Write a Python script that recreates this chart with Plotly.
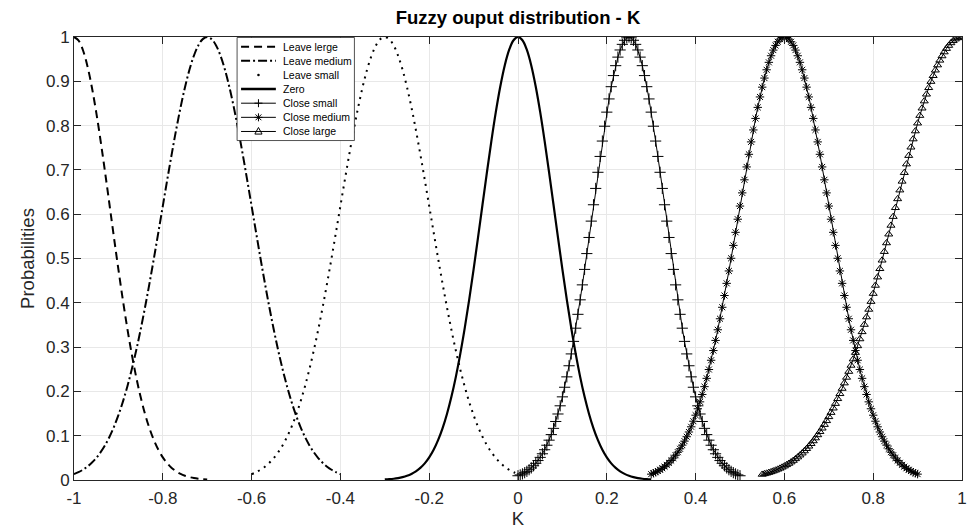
import numpy as np
import plotly.graph_objects as go

# ---------------- data ----------------
series_names = ["Leave lerge", "Leave medium", "Leave small", "Zero",
                "Close small", "Close medium", "Close large"]

# x-ranges of each sampled series (first and last K value)
leave_large_range = [-1.0, -0.7]
leave_medium_range = [-1.0, -0.4]
leave_small_range = [-0.6, 0.0]
zero_range = [-0.3, 0.3]
close_small_range = [0.0, 0.5]
close_medium_range = [0.3, 0.9]
close_large_range = [0.55, 1.0]

leave_large_y = [1.0, 0.9926, 0.9707, 0.9353, 0.8878, 0.8304, 0.7651, 0.6946, 0.6213, 0.5475,
                 0.4754, 0.4067, 0.3427, 0.2846, 0.2328, 0.1877, 0.1490, 0.1166, 0.0899, 0.0683,
                 0.0511, 0.0376, 0.0273, 0.0196, 0.0138, 0.0096, 0.0066, 0.0044, 0.0029, 0.0019,
                 0.0012]

leave_medium_y = [0.0132, 0.0176, 0.0231, 0.0301, 0.0388, 0.0496, 0.0628, 0.0787, 0.0977, 0.1201,
                  0.1463, 0.1764, 0.2107, 0.2494, 0.2922, 0.3391, 0.3899, 0.4439, 0.5005, 0.5591,
                  0.6184, 0.6776, 0.7352, 0.7902, 0.8411, 0.8868, 0.9260, 0.9577, 0.9810, 0.9952,
                  1.0,
                  0.9952, 0.9810, 0.9577, 0.9260, 0.8868, 0.8411, 0.7902, 0.7352, 0.6776, 0.6184,
                  0.5591, 0.5005, 0.4439, 0.3899, 0.3391, 0.2922, 0.2494, 0.2107, 0.1764, 0.1463,
                  0.1201, 0.0977, 0.0787, 0.0628, 0.0496, 0.0388, 0.0301, 0.0231, 0.0176, 0.0132]

leave_small_y = [0.0132, 0.0176, 0.0231, 0.0301, 0.0388, 0.0496, 0.0628, 0.0787, 0.0977, 0.1201,
                 0.1463, 0.1764, 0.2107, 0.2494, 0.2922, 0.3391, 0.3899, 0.4439, 0.5005, 0.5591,
                 0.6184, 0.6776, 0.7352, 0.7902, 0.8411, 0.8868, 0.9260, 0.9577, 0.9810, 0.9952,
                 1.0,
                 0.9952, 0.9810, 0.9577, 0.9260, 0.8868, 0.8411, 0.7902, 0.7352, 0.6776, 0.6184,
                 0.5591, 0.5005, 0.4439, 0.3899, 0.3391, 0.2922, 0.2494, 0.2107, 0.1764, 0.1463,
                 0.1201, 0.0977, 0.0787, 0.0628, 0.0496, 0.0388, 0.0301, 0.0231, 0.0176, 0.0132]

zero_y = [0.0012, 0.0019, 0.0029, 0.0044, 0.0066, 0.0096, 0.0138, 0.0196, 0.0273, 0.0376,
          0.0511, 0.0683, 0.0899, 0.1166, 0.1490, 0.1877, 0.2328, 0.2846, 0.3427, 0.4067,
          0.4754, 0.5475, 0.6213, 0.6946, 0.7651, 0.8304, 0.8878, 0.9353, 0.9707, 0.9926,
          1.0,
          0.9926, 0.9707, 0.9353, 0.8878, 0.8304, 0.7651, 0.6946, 0.6213, 0.5475, 0.4754,
          0.4067, 0.3427, 0.2846, 0.2328, 0.1877, 0.1490, 0.1166, 0.0899, 0.0683, 0.0511,
          0.0376, 0.0273, 0.0196, 0.0138, 0.0096, 0.0066, 0.0044, 0.0029, 0.0019, 0.0012]

close_small_y = [0.0096, 0.0115, 0.0138, 0.0165, 0.0196, 0.0232, 0.0273, 0.0321, 0.0376, 0.0439,
                 0.0511, 0.0592, 0.0683, 0.0785, 0.0899, 0.1025, 0.1166, 0.1321, 0.1490, 0.1675,
                 0.1877, 0.2094, 0.2328, 0.2579, 0.2846, 0.3129, 0.3427, 0.3740, 0.4067, 0.4405,
                 0.4754, 0.5111, 0.5475, 0.5844, 0.6213, 0.6582, 0.6946, 0.7304, 0.7651, 0.7986,
                 0.8304, 0.8602, 0.8878, 0.9129, 0.9353, 0.9546, 0.9707, 0.9834, 0.9926, 0.9981,
                 1.0,
                 0.9981, 0.9926, 0.9834, 0.9707, 0.9546, 0.9353, 0.9129, 0.8878, 0.8602, 0.8304,
                 0.7986, 0.7651, 0.7304, 0.6946, 0.6582, 0.6213, 0.5844, 0.5475, 0.5111, 0.4754,
                 0.4405, 0.4067, 0.3740, 0.3427, 0.3129, 0.2846, 0.2579, 0.2328, 0.2094, 0.1877,
                 0.1675, 0.1490, 0.1321, 0.1166, 0.1025, 0.0899, 0.0785, 0.0683, 0.0592, 0.0511,
                 0.0439, 0.0376, 0.0321, 0.0273, 0.0232, 0.0196, 0.0165, 0.0138, 0.0115, 0.0096]

close_medium_y = [0.0132, 0.0153, 0.0176, 0.0202, 0.0231, 0.0264, 0.0301, 0.0342, 0.0388, 0.0439,
                  0.0496, 0.0559, 0.0628, 0.0704, 0.0787, 0.0877, 0.0977, 0.1084, 0.1201, 0.1327,
                  0.1463, 0.1608, 0.1764, 0.1931, 0.2107, 0.2295, 0.2494, 0.2703, 0.2922, 0.3151,
                  0.3391, 0.3640, 0.3899, 0.4165, 0.4439, 0.4719, 0.5005, 0.5296, 0.5591, 0.5887,
                  0.6184, 0.6481, 0.6776, 0.7067, 0.7352, 0.7632, 0.7902, 0.8162, 0.8411, 0.8647,
                  0.8868, 0.9073, 0.9260, 0.9428, 0.9577, 0.9704, 0.9810, 0.9892, 0.9952, 0.9988,
                  1.0,
                  0.9988, 0.9952, 0.9892, 0.9810, 0.9704, 0.9577, 0.9428, 0.9260, 0.9073, 0.8868,
                  0.8647, 0.8411, 0.8162, 0.7902, 0.7632, 0.7352, 0.7067, 0.6776, 0.6481, 0.6184,
                  0.5887, 0.5591, 0.5296, 0.5005, 0.4719, 0.4439, 0.4165, 0.3899, 0.3640, 0.3391,
                  0.3151, 0.2922, 0.2703, 0.2494, 0.2295, 0.2107, 0.1931, 0.1764, 0.1608, 0.1463,
                  0.1327, 0.1201, 0.1084, 0.0977, 0.0877, 0.0787, 0.0704, 0.0628, 0.0559, 0.0496,
                  0.0439, 0.0388, 0.0342, 0.0301, 0.0264, 0.0231, 0.0202, 0.0176, 0.0153, 0.0132]

close_large_y = [0.0125, 0.0138, 0.0151, 0.0167, 0.0183, 0.0201, 0.0220, 0.0241, 0.0263, 0.0287,
                 0.0313, 0.0342, 0.0372, 0.0404, 0.0439, 0.0477, 0.0517, 0.0560, 0.0605, 0.0654,
                 0.0706, 0.0761, 0.0819, 0.0881, 0.0947, 0.1017, 0.1090, 0.1168, 0.1250, 0.1336,
                 0.1426, 0.1521, 0.1620, 0.1724, 0.1833, 0.1946, 0.2065, 0.2187, 0.2315, 0.2448,
                 0.2586, 0.2728, 0.2875, 0.3027, 0.3183, 0.3344, 0.3509, 0.3678, 0.3850, 0.4027,
                 0.4208, 0.4391, 0.4579, 0.4768, 0.4960, 0.5154, 0.5350, 0.5548, 0.5746, 0.5945,
                 0.6145, 0.6345, 0.6543, 0.6741, 0.6937, 0.7131, 0.7322, 0.7511, 0.7696, 0.7877,
                 0.8054, 0.8226, 0.8392, 0.8553, 0.8707, 0.8854, 0.8994, 0.9126, 0.9250, 0.9366,
                 0.9473, 0.9571, 0.9660, 0.9738, 0.9807, 0.9866, 0.9914, 0.9951, 0.9978, 0.9995,
                 1.0]

x_tick_vals = [-1, -0.8, -0.6, -0.4, -0.2, 0, 0.2, 0.4, 0.6, 0.8, 1]
x_tick_text = ["-1", "-0.8", "-0.6", "-0.4", "-0.2", "0", "0.2", "0.4", "0.6", "0.8", "1"]
y_tick_vals = [0, 0.1, 0.2, 0.3, 0.4, 0.5, 0.6, 0.7, 0.8, 0.9, 1]
y_tick_text = ["0", "0.1", "0.2", "0.3", "0.4", "0.5", "0.6", "0.7", "0.8", "0.9", "1"]


def sample_grid(rng, ys):
    """K positions of the evenly sampled series."""
    return np.linspace(rng[0], rng[1], len(ys))


# ---------------- styles ----------------
BLACK = "black"
AXC = "#262626"
W, H = 975, 529
ML, MR, MT, MB = 74, 8, 37, 47
PW, PH = W - ML - MR, H - MT - MB

dash_leave_large = "8px,5px"
dash_leave_medium = "9px,3px,2px,3px"
dash_leave_small = "2px,5px"

fig = go.Figure()

fig.add_trace(go.Scatter(x=sample_grid(leave_large_range, leave_large_y), y=leave_large_y,
                         mode="lines", name=series_names[0],
                         line=dict(color=BLACK, width=2, dash=dash_leave_large, shape="spline")))
fig.add_trace(go.Scatter(x=sample_grid(leave_medium_range, leave_medium_y), y=leave_medium_y,
                         mode="lines", name=series_names[1],
                         line=dict(color=BLACK, width=2, dash=dash_leave_medium, shape="spline")))
fig.add_trace(go.Scatter(x=sample_grid(leave_small_range, leave_small_y), y=leave_small_y,
                         mode="lines", name=series_names[2],
                         line=dict(color=BLACK, width=2, dash=dash_leave_small, shape="spline")))
fig.add_trace(go.Scatter(x=sample_grid(zero_range, zero_y), y=zero_y,
                         mode="lines", name=series_names[3],
                         line=dict(color=BLACK, width=2.2, shape="spline")))
fig.add_trace(go.Scatter(x=sample_grid(close_small_range, close_small_y), y=close_small_y,
                         mode="lines+markers", name=series_names[4],
                         line=dict(color=BLACK, width=1),
                         marker=dict(symbol="cross-thin", size=8, color=BLACK,
                                     line=dict(color=BLACK, width=1))))
fig.add_trace(go.Scatter(x=sample_grid(close_medium_range, close_medium_y), y=close_medium_y,
                         mode="lines+markers", name=series_names[5],
                         line=dict(color=BLACK, width=1),
                         marker=dict(symbol="asterisk", size=7, color=BLACK,
                                     line=dict(color=BLACK, width=1))))
fig.add_trace(go.Scatter(x=sample_grid(close_large_range, close_large_y), y=close_large_y,
                         mode="lines+markers", name=series_names[6],
                         line=dict(color=BLACK, width=1),
                         marker=dict(symbol="triangle-up-open", size=7, color=BLACK,
                                     line=dict(color=BLACK, width=1))))

# ---------------- compact MATLAB-style legend (box, samples, real text) ----------------
def px2x(px):
    return (px - ML) / PW


def py2y(py):
    return (H - MB - py) / PH


leg_left, leg_right, leg_top, leg_bottom = 238, 356, 37.5, 141
row_first, row_step = 46.7, 14.2
samp_x0, samp_x1, text_x = 242, 277, 282
samp_mid = (samp_x0 + samp_x1) / 2

shapes = [dict(type="rect", xref="paper", yref="paper",
               x0=px2x(leg_left), x1=px2x(leg_right), y0=py2y(leg_bottom), y1=py2y(leg_top),
               fillcolor="white", line=dict(color=AXC, width=0.8), layer="above")]
annotations = []

sample_lines = [dict(width=2, dash=dash_leave_large), dict(width=2, dash=dash_leave_medium), None,
                dict(width=2.5, dash="solid"), dict(width=1, dash="solid"),
                dict(width=1, dash="solid"), dict(width=1, dash="solid")]
marker_paths = [None, None, None, None,
                "M-4,0L4,0M0,-4L0,4",
                "M-4,0L4,0M0,-4L0,4M-2.9,-2.9L2.9,2.9M-2.9,2.9L2.9,-2.9",
                "M0,4L3.6,-2.6L-3.6,-2.6Z"]

for i, name in enumerate(series_names):
    ry = row_first + i * row_step
    ln = sample_lines[i]
    if ln is not None:
        shapes.append(dict(type="line", xref="paper", yref="paper",
                           x0=px2x(samp_x0), x1=px2x(samp_x1), y0=py2y(ry), y1=py2y(ry),
                           line=dict(color=BLACK, width=ln["width"], dash=ln["dash"]),
                           layer="above"))
    else:
        shapes.append(dict(type="circle", xref="paper", yref="paper",
                           xsizemode="pixel", ysizemode="pixel",
                           xanchor=px2x(samp_mid), yanchor=py2y(ry),
                           x0=-1.3, x1=1.3, y0=-1.3, y1=1.3,
                           fillcolor=BLACK, line=dict(color=BLACK, width=0), layer="above"))
    if marker_paths[i] is not None:
        shapes.append(dict(type="path", xref="paper", yref="paper",
                           xsizemode="pixel", ysizemode="pixel",
                           xanchor=px2x(samp_mid), yanchor=py2y(ry),
                           path=marker_paths[i], fillcolor="rgba(0,0,0,0)",
                           line=dict(color=BLACK, width=1), layer="above"))
    annotations.append(dict(text=name, xref="paper", yref="paper",
                            x=px2x(text_x), y=py2y(ry), xanchor="left", yanchor="middle",
                            showarrow=False, font=dict(size=10.5, color=BLACK)))

axis_common = dict(showline=True, linecolor=AXC, linewidth=1, mirror="ticks",
                   ticks="inside", ticklen=7, tickcolor=AXC, tickwidth=1,
                   showgrid=True, gridcolor="#e8e8e8", gridwidth=1, zeroline=False,
                   tickfont=dict(size=17, color=AXC))

fig.update_layout(
    width=W, height=H,
    margin=dict(l=ML, r=MR, t=MT, b=MB),
    paper_bgcolor="white", plot_bgcolor="white",
    font=dict(family="Liberation Sans, Arial, sans-serif", color=AXC),
    title=dict(text="<b>Fuzzy ouput distribution - K</b>", x=0.5, xref="paper", xanchor="center",
               y=1 - 18 / H, yref="container", yanchor="middle",
               font=dict(size=18.5, color=BLACK)),
    showlegend=False,
    shapes=shapes,
    annotations=annotations,
    xaxis=dict(range=[-1, 1], tickvals=x_tick_vals, ticktext=x_tick_text,
               ticklabelstandoff=3,
               title=dict(text="K", font=dict(size=18.5, color=AXC), standoff=0),
               **axis_common),
    yaxis=dict(range=[0, 1], tickvals=y_tick_vals, ticktext=y_tick_text,
               title=dict(text="Probabilities", font=dict(size=18.5, color=AXC), standoff=6),
               **axis_common),
)

fig.write_html("out.html")
